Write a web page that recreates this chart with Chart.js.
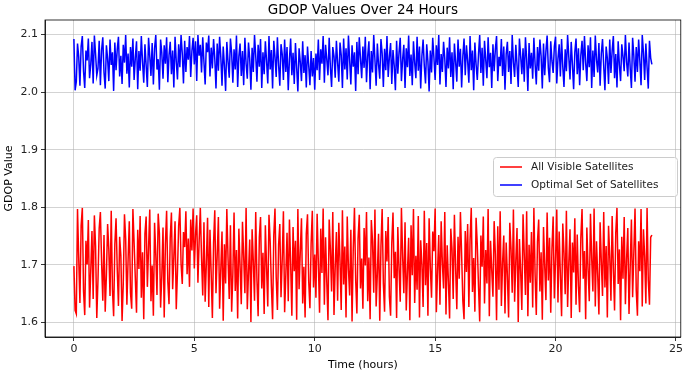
<!DOCTYPE html>
<html>
<head>
<meta charset="utf-8">
<script src="https://cdn.jsdelivr.net/npm/chart.js@4/dist/chart.umd.min.js"></script>
<style>
  html, body { margin: 0; padding: 0; background: #fff; }
  #wrap { width: 685px; height: 375px; }
</style>
</head>
<body>
<div id="wrap"><canvas id="gdopChart" width="685" height="375"></canvas></div>
<script>
// --- GDOP values, one row per hour (3 minute steps) ---

const seriesLabels = ['All Visible Satellites', 'Optimal Set of Satellites'];
const xTicks = [0, 5, 10, 15, 20, 25];
const yTicks = [1.6, 1.7, 1.8, 1.9, 2.0, 2.1];

const allVisible = [
    1.698, 1.621, 1.615, 1.797, 1.712, 1.634, 1.768, 1.799, 1.655, 1.613, 1.742, 1.701, 1.778, 1.626, 1.689, 1.759, 1.641, 1.786, 1.732, 1.608,
    1.674, 1.763, 1.792, 1.705, 1.638, 1.752, 1.619, 1.683, 1.771, 1.727, 1.646, 1.794, 1.658, 1.611, 1.736, 1.781, 1.692, 1.629, 1.749, 1.716,
    1.603, 1.668, 1.788, 1.745, 1.631, 1.709, 1.776, 1.652, 1.624, 1.797, 1.738, 1.677, 1.617, 1.761, 1.693, 1.785, 1.643, 1.722, 1.606, 1.754,
    1.784, 1.662, 1.729, 1.796, 1.637, 1.699, 1.612, 1.773, 1.718, 1.648, 1.789, 1.754, 1.626, 1.681, 1.765, 1.609, 1.737, 1.794, 1.671, 1.632,
    1.747, 1.791, 1.658, 1.714, 1.776, 1.623, 1.688, 1.768, 1.799, 1.702, 1.667, 1.757, 1.731, 1.793, 1.684, 1.746, 1.662, 1.779, 1.725, 1.798,
    1.694, 1.752, 1.786, 1.669, 1.741, 1.799, 1.712, 1.647, 1.774, 1.636, 1.703, 1.782, 1.627, 1.761, 1.685, 1.608, 1.739, 1.795, 1.651, 1.717,
    1.783, 1.624, 1.692, 1.758, 1.603, 1.736, 1.668, 1.797, 1.712, 1.641, 1.769, 1.619, 1.684, 1.791, 1.655, 1.726, 1.607, 1.763, 1.698, 1.632,
    1.775, 1.714, 1.651, 1.799, 1.623, 1.687, 1.744, 1.601, 1.762, 1.706, 1.638, 1.792, 1.675, 1.611, 1.748, 1.783, 1.659, 1.721, 1.615, 1.769,
    1.696, 1.628, 1.787, 1.741, 1.664, 1.606, 1.752, 1.798, 1.679, 1.622, 1.735, 1.771, 1.644, 1.709, 1.793, 1.618, 1.683, 1.756, 1.637, 1.779,
    1.702, 1.612, 1.766, 1.689, 1.742, 1.605, 1.797, 1.658, 1.723, 1.781, 1.633, 1.697, 1.609, 1.754, 1.788, 1.672, 1.625, 1.737, 1.794, 1.661,
    1.718, 1.643, 1.789, 1.704, 1.617, 1.763, 1.686, 1.798, 1.631, 1.748, 1.671, 1.604, 1.779, 1.727, 1.654, 1.792, 1.613, 1.696, 1.757, 1.638,
    1.773, 1.707, 1.622, 1.795, 1.666, 1.732, 1.609, 1.784, 1.693, 1.647, 1.761, 1.602, 1.728, 1.799, 1.675, 1.616, 1.746, 1.787, 1.659, 1.711,
    1.624, 1.764, 1.699, 1.792, 1.637, 1.713, 1.606, 1.778, 1.741, 1.652, 1.796, 1.628, 1.685, 1.754, 1.603, 1.733, 1.797, 1.668, 1.619, 1.759,
    1.706, 1.783, 1.645, 1.612, 1.738, 1.791, 1.677, 1.723, 1.608, 1.766, 1.694, 1.636, 1.799, 1.715, 1.651, 1.774, 1.621, 1.688, 1.747, 1.604,
    1.769, 1.682, 1.797, 1.634, 1.716, 1.657, 1.785, 1.609, 1.743, 1.701, 1.627, 1.794, 1.665, 1.738, 1.612, 1.781, 1.696, 1.643, 1.758, 1.724,
    1.798, 1.618, 1.689, 1.752, 1.631, 1.776, 1.703, 1.659, 1.792, 1.614, 1.734, 1.672, 1.607, 1.763, 1.728, 1.641, 1.787, 1.695, 1.623, 1.749,
    1.676, 1.792, 1.717, 1.638, 1.606, 1.759, 1.688, 1.771, 1.627, 1.744, 1.799, 1.653, 1.712, 1.619, 1.782, 1.735, 1.664, 1.602, 1.751, 1.697,
    1.784, 1.633, 1.726, 1.668, 1.797, 1.611, 1.742, 1.691, 1.645, 1.776, 1.718, 1.604, 1.767, 1.657, 1.793, 1.629, 1.703, 1.751, 1.616, 1.739,
    1.681, 1.609, 1.773, 1.728, 1.652, 1.796, 1.636, 1.707, 1.764, 1.601, 1.745, 1.689, 1.622, 1.788, 1.718, 1.648, 1.793, 1.611, 1.735, 1.669,
    1.757, 1.626, 1.799, 1.684, 1.613, 1.741, 1.779, 1.654, 1.722, 1.605, 1.766, 1.698, 1.639, 1.791, 1.673, 1.747, 1.617, 1.728, 1.784, 1.642,
    1.709, 1.796, 1.635, 1.758, 1.682, 1.611, 1.772, 1.721, 1.649, 1.794, 1.627, 1.704, 1.762, 1.608, 1.739, 1.687, 1.781, 1.631, 1.753, 1.664,
    1.618, 1.747, 1.797, 1.676, 1.724, 1.606, 1.765, 1.693, 1.637, 1.789, 1.712, 1.654, 1.798, 1.628, 1.741, 1.683, 1.614, 1.774, 1.706, 1.646,
    1.792, 1.661, 1.733, 1.609, 1.768, 1.715, 1.638, 1.785, 1.694, 1.621, 1.756, 1.799, 1.667, 1.727, 1.604, 1.749, 1.676, 1.783, 1.632, 1.711,
    1.764, 1.615, 1.698, 1.779, 1.644, 1.721, 1.798, 1.656, 1.612, 1.741, 1.689, 1.797, 1.628, 1.762, 1.715, 1.633, 1.799, 1.674, 1.631, 1.748,
    1.752
];

const optimalSet = [
    2.092, 2.003, 2.018, 2.084, 2.061, 2.011, 2.079, 2.097, 2.036, 2.007, 2.072, 2.055, 2.093, 2.024, 2.048, 2.087, 2.015, 2.098, 2.066, 2.029,
    2.041, 2.089, 2.012, 2.073, 2.095, 2.034, 2.006, 2.081, 2.058, 2.019, 2.091, 2.047, 2.069, 2.002, 2.086, 2.038, 2.074, 2.096, 2.027, 2.063,
    2.014, 2.082, 2.051, 2.099, 2.032, 2.067, 2.008, 2.078, 2.044, 2.093, 2.021, 2.059, 2.088, 2.005, 2.071, 2.037, 2.097, 2.052, 2.016, 2.083,
    2.046, 2.009, 2.094, 2.062, 2.028, 2.085, 2.013, 2.076, 2.099, 2.039, 2.057, 2.004, 2.091, 2.068, 2.023, 2.081, 2.049, 2.095, 2.017, 2.064,
    2.087, 2.031, 2.072, 2.008, 2.096, 2.054, 2.022, 2.083, 2.043, 2.099, 2.067, 2.015, 2.089, 2.035, 2.078, 2.056, 2.097, 2.026, 2.071, 2.094,
    2.048, 2.088, 2.019, 2.099, 2.063, 2.082, 2.034, 2.095, 2.052, 2.013, 2.086, 2.069, 2.098, 2.027, 2.077, 2.041, 2.092, 2.058, 2.006, 2.084,
    2.037, 2.096, 2.061, 2.011, 2.079, 2.045, 2.002, 2.087, 2.053, 2.025, 2.093, 2.068, 2.016, 2.074, 2.039, 2.098, 2.009, 2.062, 2.084, 2.028,
    2.071, 2.012, 2.094, 2.049, 2.023, 2.086, 2.058, 2.004, 2.077, 2.035, 2.099, 2.063, 2.018, 2.082, 2.044, 2.092, 2.007, 2.069, 2.031, 2.088,
    2.054, 2.015, 2.097, 2.039, 2.073, 2.006, 2.089, 2.061, 2.026, 2.095, 2.047, 2.011, 2.083, 2.066, 2.021, 2.091, 2.035, 2.078, 2.003, 2.057,
    2.093, 2.029, 2.068, 2.014, 2.085, 2.042, 2.001, 2.076, 2.052, 2.019, 2.088, 2.033, 2.064, 2.008, 2.079, 2.046, 2.012, 2.071, 2.027, 2.059,
    2.004, 2.067, 2.038, 2.091, 2.021, 2.074, 2.049, 2.097, 2.016, 2.082, 2.057, 2.029, 2.094, 2.043, 2.009, 2.078, 2.062, 2.025, 2.089, 2.051,
    2.018, 2.086, 2.064, 2.007, 2.093, 2.039, 2.076, 2.022, 2.098, 2.055, 2.013, 2.081, 2.044, 2.069, 2.002, 2.087, 2.031, 2.095, 2.058, 2.024,
    2.079, 2.042, 2.096, 2.017, 2.063, 2.088, 2.005, 2.071, 2.034, 2.099, 2.056, 2.011, 2.084, 2.048, 2.023, 2.092, 2.067, 2.009, 2.075, 2.038,
    2.097, 2.026, 2.061, 2.085, 2.014, 2.073, 2.046, 2.003, 2.089, 2.032, 2.068, 2.094, 2.019, 2.057, 2.082, 2.007, 2.076, 2.043, 2.098, 2.028,
    2.065, 2.012, 2.088, 2.051, 2.024, 2.096, 2.037, 2.079, 2.006, 2.062, 2.091, 2.045, 2.015, 2.083, 2.053, 2.001, 2.072, 2.034, 2.094, 2.059,
    2.021, 2.081, 2.047, 2.099, 2.013, 2.066, 2.035, 2.087, 2.058, 2.009, 2.077, 2.041, 2.095, 2.026, 2.069, 2.005, 2.084, 2.052, 2.018, 2.091,
    2.044, 2.075, 2.008, 2.062, 2.093, 2.029, 2.081, 2.054, 2.016, 2.097, 2.038, 2.072, 2.003, 2.086, 2.048, 2.021, 2.065, 2.099, 2.033, 2.077,
    2.011, 2.089, 2.056, 2.024, 2.095, 2.043, 2.068, 2.007, 2.083, 2.036, 2.074, 2.097, 2.019, 2.061, 2.045, 2.092, 2.028, 2.079, 2.004, 2.066,
    2.087, 2.035, 2.071, 2.014, 2.099, 2.052, 2.026, 2.082, 2.047, 2.009, 2.093, 2.063, 2.031, 2.076, 2.018, 2.095, 2.057, 2.002, 2.085, 2.041,
    2.068, 2.023, 2.094, 2.049, 2.013, 2.078, 2.037, 2.091, 2.062, 2.006, 2.084, 2.029, 2.071, 2.098, 2.042, 2.017, 2.088, 2.054, 2.033, 2.079,
    2.096, 2.015, 2.058, 2.083, 2.027, 2.092, 2.044, 2.009, 2.074, 2.036, 2.099, 2.061, 2.022, 2.087, 2.048, 2.005, 2.069, 2.093, 2.031, 2.076,
    2.012, 2.064, 2.089, 2.038, 2.097, 2.051, 2.019, 2.081, 2.043, 2.095, 2.007, 2.072, 2.026, 2.098, 2.056, 2.034, 2.085, 2.011, 2.067, 2.092,
    2.045, 2.003, 2.079, 2.059, 2.014, 2.091, 2.033, 2.071, 2.097, 2.024, 2.066, 2.008, 2.088, 2.047, 2.019, 2.083, 2.062, 2.036, 2.099, 2.052,
    2.027, 2.086, 2.041, 2.007, 2.094, 2.063, 2.018, 2.078, 2.035, 2.091, 2.054, 2.012, 2.099, 2.068, 2.021, 2.084, 2.043, 2.006, 2.089, 2.059,
    2.048
];

// time axis: 0..24 h in 3 minute steps
const hours = allVisible.map((_, i) => i / 20);

const FONT = "'DejaVu Sans', sans-serif";

// Axes frame (all four spines) and the legend box inside the plot
const framePlugin = {
    id: 'frame',
    afterDatasetsDraw(chart) {
        const { ctx, chartArea: a } = chart;
        ctx.save();
        ctx.strokeStyle = '#000';
        ctx.lineWidth = 0.8;
        ctx.strokeRect(a.left, a.top, a.right - a.left, a.bottom - a.top);

        // legend
        const bx = 493, by = 157, bw = 184, bh = 39;
        ctx.fillStyle = 'rgba(255,255,255,0.8)';
        ctx.strokeStyle = '#cccccc';
        ctx.lineWidth = 1;
        ctx.beginPath();
        ctx.roundRect(bx + 0.5, by + 0.5, bw, bh, 3);
        ctx.fill();
        ctx.stroke();
        ctx.font = '10.5px ' + FONT;
        ctx.textBaseline = 'middle';
        chart.data.datasets.forEach((ds, i) => {
            const y = by + 10 + i * 18;
            ctx.strokeStyle = ds.borderColor;
            ctx.lineWidth = 1.5;
            ctx.beginPath();
            ctx.moveTo(bx + 7, y);
            ctx.lineTo(bx + 29, y);
            ctx.stroke();
            ctx.fillStyle = '#222';
            ctx.fillText(ds.label, bx + 38, y);
        });
        ctx.restore();
    }
};

const ctx = document.getElementById('gdopChart').getContext('2d');
const gdopChart = new Chart(ctx, {
    type: 'line',
    data: {
        datasets: [{
            label: seriesLabels[0],
            data: hours.map((h, i) => ({ x: h, y: allVisible[i] })),
            borderColor: '#ff0000',
            borderWidth: 1.5,
            pointRadius: 0,
            tension: 0
        }, {
            label: seriesLabels[1],
            data: hours.map((h, i) => ({ x: h, y: optimalSet[i] })),
            borderColor: '#0000ff',
            borderWidth: 1.5,
            pointRadius: 0,
            tension: 0
        }]
    },
    options: {
        responsive: false,
        animation: false,
        layout: { padding: { left: 0, right: 2, top: 0, bottom: 0 } },
        plugins: {
            legend: { display: false },
            tooltip: { enabled: false },
            title: {
                display: true,
                fullSize: false,
                text: 'GDOP Values Over 24 Hours',
                color: '#000',
                font: { family: FONT, size: 13.5, weight: 'normal', lineHeight: 1.2 },
                padding: { top: 2.5, bottom: 1.3 }
            }
        },
        scales: {
            x: {
                type: 'linear',
                min: -1.2,
                max: 25.2,
                afterBuildTicks: (s) => { s.ticks = xTicks.map(v => ({ value: v })); },
                afterFit: (s) => { s.height = 38; },
                ticks: { color: '#222', font: { family: FONT, size: 11 }, padding: 2, maxRotation: 0 },
                grid: { color: 'rgba(176,176,176,0.7)', lineWidth: 0.8, tickColor: '#000', tickLength: 4 },
                border: { color: '#000', width: 0.8 },
                title: { display: true, text: 'Time (hours)', color: '#000', font: { family: FONT, size: 11 }, padding: { top: 1, bottom: 3 } }
            },
            y: {
                type: 'linear',
                min: 1.575,
                max: 2.125,
                afterBuildTicks: (s) => { s.ticks = yTicks.map(v => ({ value: v })); },
                afterFit: (s) => { s.width = 45; },
                ticks: { color: '#222', font: { family: FONT, size: 11 }, padding: 3, callback: (v) => v.toFixed(1) },
                grid: { color: 'rgba(176,176,176,0.7)', lineWidth: 0.8, tickColor: '#000', tickLength: 4 },
                border: { color: '#000', width: 0.8 },
                title: { display: true, text: 'GDOP Value', color: '#000', font: { family: FONT, size: 11 }, padding: { top: 3, bottom: 0 } }
            }
        }
    },
    plugins: [framePlugin]
});
</script>
</body>
</html>
